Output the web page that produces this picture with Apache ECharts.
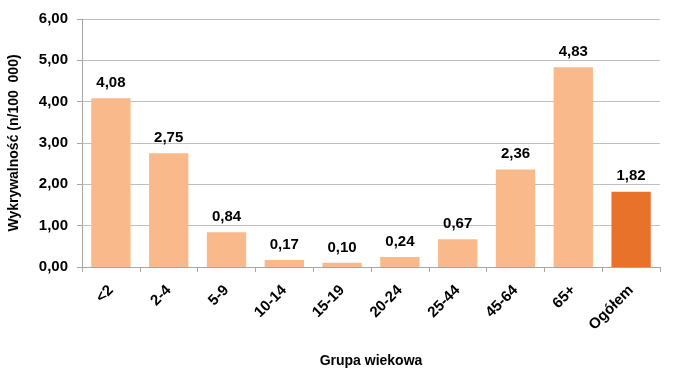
<!DOCTYPE html>
<html><head><meta charset="utf-8">
<script src="https://cdn.jsdelivr.net/npm/echarts@6/dist/echarts.min.js"></script>
<style>html,body{margin:0;padding:0;background:#fff}#c{width:680px;height:389px}</style>
</head><body><div id="c"></div>
<script>
const categories = ['<2','2-4','5-9','10-14','15-19','20-24','25-44','45-64','65+','Ogółem'];
const values = [4.08,2.75,0.84,0.17,0.10,0.24,0.67,2.36,4.83,1.82];
const yTicks = {min:0,max:6,interval:1};
const lightColor = '#FAB98B';
const darkColor = '#E8722A';
const fmt = v => v.toFixed(2).replace('.', ',');
const font = 'Liberation Sans';
const chart = echarts.init(document.getElementById('c'));
chart.setOption({
  animation:false,
  grid:{left:82,right:20,top:19,bottom:122,containLabel:false,outerBoundsMode:'none'},
  xAxis:{type:'category',data:categories,
    name:'Grupa wiekowa',nameLocation:'middle',nameGap:87,
    nameTextStyle:{fontFamily:font,fontWeight:'bold',fontSize:14,color:'#000'},
    axisLine:{lineStyle:{color:'#A6A6A6'}},
    axisTick:{show:true,alignWithLabel:false,length:5,lineStyle:{color:'#A6A6A6'}},
    axisLabel:{rotate:45,interval:0,margin:21,fontFamily:font,fontWeight:'bold',fontSize:15,color:'#000'}},
  yAxis:{type:'value',min:yTicks.min,max:yTicks.max,interval:yTicks.interval,
    name:'Wykrywalność (n/100  000)',nameLocation:'middle',nameGap:61,
    nameTextStyle:{fontFamily:font,fontWeight:'bold',fontSize:14,color:'#000'},
    axisLine:{show:true,lineStyle:{color:'#A6A6A6'}},
    axisTick:{show:true,length:5,lineStyle:{color:'#A6A6A6'}},
    splitLine:{lineStyle:{color:'#BFBFBF'}},
    axisLabel:{formatter:v=>fmt(v),margin:14,fontFamily:font,fontWeight:'bold',fontSize:15,color:'#000'}},
  series:[{type:'bar',barCategoryGap:'32%',
    data:values.map((v,i)=>({value:v,itemStyle:{color:i===values.length-1?darkColor:lightColor}})),
    label:{show:true,position:'top',distance:8,formatter:p=>fmt(p.value),fontFamily:font,fontWeight:'bold',fontSize:15,color:'#000'}}]
});
</script></body></html>
